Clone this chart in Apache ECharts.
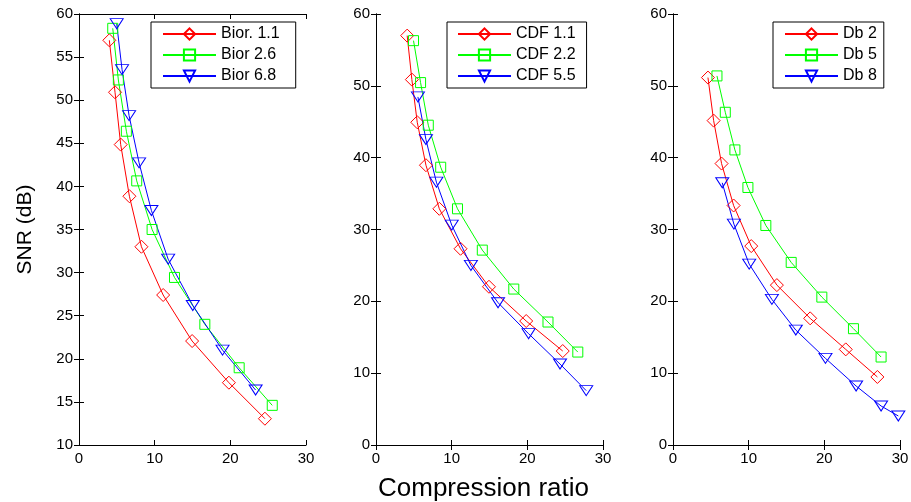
<!DOCTYPE html>
<html>
<head>
<meta charset="utf-8">
<script src="https://cdn.jsdelivr.net/npm/echarts@6/dist/echarts.min.js"></script>
<style>
  html, body { margin: 0; padding: 0; background: #fff; }
  #chart { width: 911px; height: 502px; }
</style>
</head>
<body>
<div id="chart"></div>
<script>
// panel 1: biorthogonal
const bior11X = [4.01, 4.76, 5.51, 6.66, 8.25, 11.12, 14.95, 19.81, 24.57]
const bior11Y = [56.95, 50.92, 44.85, 38.86, 33.0, 27.4, 22.06, 17.23, 13.05]
const bior26X = [4.46, 5.2, 6.26, 7.63, 9.66, 12.62, 16.63, 21.17, 25.54]
const bior26Y = [58.34, 52.35, 46.4, 40.64, 35.0, 29.44, 24.0, 18.96, 14.6]
const bior68X = [4.98, 5.69, 6.62, 7.94, 9.57, 11.78, 15.04, 18.97, 23.34]
const bior68Y = [58.88, 53.55, 48.21, 42.73, 37.2, 31.56, 26.19, 21.01, 16.38]

// panel 2: CDF
const cdf11X = [4.12, 4.74, 5.45, 6.6, 8.37, 11.17, 14.93, 19.85, 24.68]
const cdf11Y = [56.99, 50.87, 44.93, 38.95, 32.88, 27.32, 22.03, 17.26, 13.08]
const cdf22X = [4.96, 5.89, 6.91, 8.55, 10.77, 14.05, 18.21, 22.73, 26.67]
const cdf22Y = [56.29, 50.45, 44.52, 38.67, 32.88, 27.13, 21.71, 17.12, 12.94]
const cdf55X = [5.54, 6.6, 7.98, 10.01, 12.54, 16.13, 20.16, 24.32, 27.78]
const cdf55Y = [48.46, 42.52, 36.59, 30.61, 25.0, 19.81, 15.5, 11.27, 7.57]

// panel 3: Daubechies
const db2X = [4.62, 5.37, 6.42, 8.01, 10.34, 13.73, 18.13, 22.83, 27.01]
const db2Y = [51.15, 45.16, 39.18, 33.34, 27.69, 22.26, 17.63, 13.31, 9.47]
const db5X = [5.81, 6.91, 8.18, 9.9, 12.27, 15.62, 19.67, 23.85, 27.5]
const db5Y = [51.38, 46.32, 41.08, 35.85, 30.56, 25.42, 20.59, 16.19, 12.25]
const db8X = [6.51, 8.05, 10.07, 13.07, 16.23, 20.15, 24.2, 27.5, 29.78]
const db8Y = [36.5, 30.75, 25.18, 20.27, 16.0, 12.06, 8.21, 5.43, 4.04]

const legendNames = [
  ['Bior. 1.1', 'Bior 2.6', 'Bior 6.8'],
  ['CDF 1.1', 'CDF 2.2', 'CDF 5.5'],
  ['Db 2', 'Db 5', 'Db 8']
]
const yRanges = [[10, 60, 5], [0, 60, 10], [0, 60, 10]]
const xTicks = [0, 30, 10]

const FONT = 'Liberation Sans'
const red = '#ff0000'
const green = '#00ff00'
const blue = '#0000ff'

const gridLefts = [79, 376, 673]
const legendBoxes = [
  { left: 151, pad: [4, 16, 4, 11] },
  { left: 447, pad: [4, 11, 4, 10] },
  { left: 773, pad: [4, 7, 4, 11] }
]

function pairs (xs, ys) {
  return xs.map((x, i) => [x, ys[i]])
}

const styles = [
  { color: red, symbol: 'diamond', symbolSize: 13, symbolRotate: 0 },
  { color: green, symbol: 'rect', symbolSize: 10, symbolRotate: 0 },
  { color: blue, symbol: 'triangle', symbolSize: [13, 10], symbolRotate: 180 }
]

const panelData = [
  [pairs(bior11X, bior11Y), pairs(bior26X, bior26Y), pairs(bior68X, bior68Y)],
  [pairs(cdf11X, cdf11Y), pairs(cdf22X, cdf22Y), pairs(cdf55X, cdf55Y)],
  [pairs(db2X, db2Y), pairs(db5X, db5Y), pairs(db8X, db8Y)]
]

const grid = []
const xAxis = []
const yAxis = []
const series = []
const legend = []

for (let p = 0; p < 3; p++) {
  grid.push({ left: gridLefts[p], top: 14, width: 227, height: 431, outerBoundsMode: 'none', containLabel: false })

  const tick = { show: true, inside: true, length: 5, lineStyle: { color: '#000' } }
  const line = { show: true, lineStyle: { color: '#000', width: 1 } }

  // bottom x axis
  xAxis.push({
    type: 'value', gridIndex: p, min: xTicks[0], max: xTicks[1], interval: xTicks[2],
    axisLine: line, axisTick: tick, splitLine: { show: false },
    axisLabel: { color: '#000', fontFamily: FONT, fontSize: 15, margin: 6 },
    name: p === 1 ? 'Compression ratio' : '',
    nameLocation: 'middle', nameGap: 31,
    nameTextStyle: { color: '#000', fontFamily: FONT, fontSize: 26, padding: [0, 12, 0, 0] }
  })
  // top x axis (box)
  xAxis.push({
    type: 'value', gridIndex: p, position: 'top', min: xTicks[0], max: xTicks[1], interval: xTicks[2],
    axisLine: line, axisTick: tick, axisLabel: { show: false }, splitLine: { show: false }
  })
  // left y axis
  yAxis.push({
    type: 'value', gridIndex: p, min: yRanges[p][0], max: yRanges[p][1], interval: yRanges[p][2],
    axisLine: line, axisTick: tick, splitLine: { show: false },
    axisLabel: { color: '#000', fontFamily: FONT, fontSize: 15, margin: 6 },
    name: p === 0 ? 'SNR (dB)' : '',
    nameLocation: 'middle', nameGap: 43,
    nameTextStyle: { color: '#000', fontFamily: FONT, fontSize: 21 }
  })
  // right y axis (box)
  yAxis.push({
    type: 'value', gridIndex: p, position: 'right', min: yRanges[p][0], max: yRanges[p][1], interval: yRanges[p][2],
    axisLine: line, axisTick: tick, axisLabel: { show: false }, splitLine: { show: false }
  })

  for (let s = 0; s < 3; s++) {
    const st = styles[s]
    series.push({
      name: legendNames[p][s],
      type: 'line',
      xAxisIndex: p * 2,
      yAxisIndex: p * 2,
      data: panelData[p][s],
      symbol: st.symbol,
      symbolSize: st.symbolSize,
      symbolRotate: st.symbolRotate,
      showAllSymbol: true,
      lineStyle: { color: st.color, width: 1 },
      itemStyle: { color: 'rgba(255,255,255,0)', borderColor: st.color, borderWidth: 1 },
      emphasis: { disabled: true },
      animation: false
    })
  }

  legend.push({
    data: legendNames[p],
    orient: 'vertical',
    left: legendBoxes[p].left,
    top: 22,
    padding: legendBoxes[p].pad,
    itemWidth: 53,
    itemHeight: 14,
    itemGap: 5,
    backgroundColor: '#fff',
    borderColor: '#000',
    borderWidth: 1,
    borderRadius: 0,
    selectedMode: false,
    textStyle: { color: '#000', fontFamily: FONT, fontSize: 16 }
  })
}

const chart = echarts.init(document.getElementById('chart'))
chart.setOption({
  animation: false,
  backgroundColor: '#fff',
  grid: grid,
  xAxis: xAxis,
  yAxis: yAxis,
  legend: legend,
  series: series
})
</script>
</body>
</html>
